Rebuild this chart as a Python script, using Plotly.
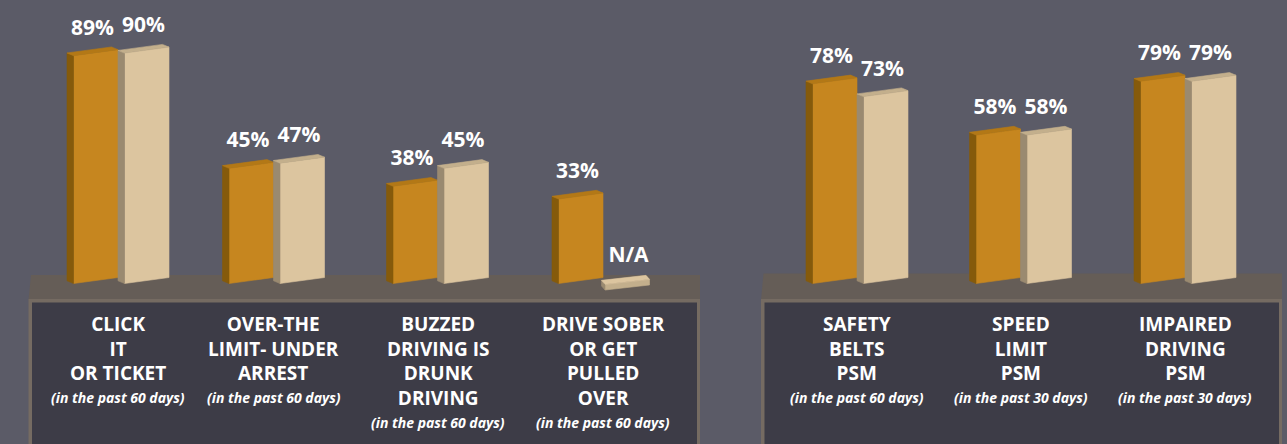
import plotly.graph_objects as go

# ---------------- data ----------------
left_categories = ["CLICK<br>IT<br>OR TICKET",
                   "OVER-THE<br>LIMIT- UNDER<br>ARREST",
                   "BUZZED<br>DRIVING IS<br>DRUNK<br>DRIVING",
                   "DRIVE SOBER<br>OR GET<br>PULLED<br>OVER"]
left_periods = ["(in the past 60 days)", "(in the past 60 days)",
                "(in the past 60 days)", "(in the past 60 days)"]
left_series_a = [89, 45, 38, 33]
left_series_b = [90, 47, 45, None]

right_categories = ["SAFETY<br>BELTS<br>PSM",
                    "SPEED<br>LIMIT<br>PSM",
                    "IMPAIRED<br>DRIVING<br>PSM"]
right_periods = ["(in the past 60 days)", "(in the past 30 days)",
                 "(in the past 30 days)"]
right_series_a = [78, 58, 79]
right_series_b = [73, 58, 79]

# ---------------- layout constants ----------------
W, H = 1287, 444
BASE_PX = 283.5          # pixel row of value 0
PX_PER_PCT = 2.56        # pixels per percentage point
LEFT_POS = [118, 273.5, 437.5, 603]
RIGHT_POS = [857, 1020.5, 1185]
FRONT_W = 44.5           # px, front face width
DEPTH_X = 6.5            # px, depth offset to the left
DEPTH_Y = 2.7 / PX_PER_PCT
SKEW = 6.0 / PX_PER_PCT  # rise of the face over its width
LABEL_OFF = 10.3
CAT_FONT = 19
LINE_PX = 1.3 * CAT_FONT

BG = "#5b5b67"
FLOOR = "#655d57"
BOX_BORDER = "#756b62"
BOX_FILL = "#3d3c47"
ORANGE = dict(front="#c6861f", side="#855a0b", top="#b37816")
TAN = dict(front="#dcc59f", side="#9a8a70", top="#c3af8c")

Y_MIN = -(H - BASE_PX) / PX_PER_PCT
Y_MAX = BASE_PX / PX_PER_PCT


def py(p):
    """pixel row -> y data value"""
    return (BASE_PX - p) / PX_PER_PCT


def box(x0, base, top, depth_x=DEPTH_X, depth_y=DEPTH_Y, skew=SKEW):
    x1 = x0 + FRONT_W
    front = [(x0, base), (x1, base + skew), (x1, top + skew), (x0, top)]
    side = [(x0, base), (x0, top), (x0 - depth_x, top + depth_y),
            (x0 - depth_x, base + depth_y)]
    topf = [(x0, top), (x1, top + skew), (x1 - depth_x, top + skew + depth_y),
            (x0 - depth_x, top + depth_y)]
    return front, side, topf


polys = {("a", k): ([], []) for k in ("front", "side", "top")}
polys.update({("b", k): ([], []) for k in ("front", "side", "top")})


def add_poly(key, pts):
    xs, ys = polys[key]
    for x, y in pts + [pts[0]]:
        xs.append(x)
        ys.append(y)
    xs.append(None)
    ys.append(None)


fig = go.Figure()

all_pos = LEFT_POS + RIGHT_POS
all_a = left_series_a + right_series_a
all_b = left_series_b + right_series_b
all_cats = left_categories + right_categories
all_periods = left_periods + right_periods

slab = None
for c, va, vb in zip(all_pos, all_a, all_b):
    f, s, t = box(c - FRONT_W, 0, va)
    add_poly(("a", "front"), f)
    add_poly(("a", "side"), s)
    add_poly(("a", "top"), t)
    if vb is not None:
        f, s, t = box(c + DEPTH_X, 0, vb)
        add_poly(("b", "front"), f)
        add_poly(("b", "side"), s)
        add_poly(("b", "top"), t)
    else:
        slab = c

for (ser, part), (xs, ys) in polys.items():
    col = (ORANGE if ser == "a" else TAN)[part]
    fig.add_trace(go.Scatter(x=xs, y=ys, mode="lines", fill="toself",
                             fillcolor=col, line=dict(color=col, width=0.6),
                             hoverinfo="skip", showlegend=False))

# N/A placeholder slab lying on the floor
if slab is not None:
    x0 = slab + 2
    b0 = py(290)
    f, s, t = box(x0, b0, b0 + 2.2, depth_x=3.5, depth_y=4.0 / PX_PER_PCT,
                  skew=5.0 / PX_PER_PCT)
    for pts, col in ((f, TAN["top"]), (s, TAN["side"]), (t, TAN["front"])):
        xs = [p[0] for p in pts] + [pts[0][0]]
        ys = [p[1] for p in pts] + [pts[0][1]]
        fig.add_trace(go.Scatter(x=xs, y=ys, mode="lines", fill="toself",
                                 fillcolor=col, line=dict(color=col, width=0.6),
                                 hoverinfo="skip", showlegend=False))

# value labels
lab_x, lab_y, lab_t = [], [], []
for c, va, vb in zip(all_pos, all_a, all_b):
    lab_x.append(c - (FRONT_W + DEPTH_X) / 2)
    lab_y.append(va + LABEL_OFF)
    lab_t.append(f"{va}%")
    lab_x.append(c + (FRONT_W + DEPTH_X) / 2)
    lab_y.append((vb if vb is not None else 0) + LABEL_OFF)
    lab_t.append(f"{vb}%" if vb is not None else "N/A")
fig.add_trace(go.Scatter(x=lab_x, y=lab_y, text=lab_t, mode="text",
                         textposition="middle center",
                         textfont=dict(family="Open Sans", size=21,
                                       color="white", weight="bold"),
                         hoverinfo="skip", showlegend=False))

# floors and label boxes
shapes = []
panels = [(29.5, 700, 275), (762, 1282, 273.5)]
for x0, x1, ftop in panels:
    shapes.append(dict(type="path", xref="x", yref="y",
                       path=f"M {x0+1.5},{py(ftop)} L {x1},{py(ftop)} L {x1},{py(300)} L {x0-1},{py(300)} Z",
                       fillcolor=FLOOR, line=dict(width=0), layer="below"))
    shapes.append(dict(type="rect", xref="x", yref="y", x0=x0 - 1, x1=x1,
                       y0=Y_MIN - 5, y1=py(299), fillcolor=BOX_BORDER,
                       line=dict(width=0), layer="below"))
    shapes.append(dict(type="rect", xref="x", yref="y", x0=x0 + 2.5, x1=x1 - 3,
                       y0=Y_MIN - 5, y1=py(302.5), fillcolor=BOX_FILL,
                       line=dict(width=0), layer="below"))

annotations = []
FIRST_LINE = 324
for c, cat, per in zip(all_pos, all_cats, all_periods):
    n = len(cat.split("<br>"))
    annotations.append(dict(x=c, y=py(FIRST_LINE + (n - 1) * LINE_PX / 2),
                            xref="x", yref="y", text=cat, showarrow=False,
                            xanchor="center", yanchor="middle", align="center",
                            font=dict(family="Open Sans", size=CAT_FONT,
                                      color="white", weight="bold")))
    annotations.append(dict(x=c, y=py(FIRST_LINE + n * LINE_PX - 0.5), xref="x",
                            yref="y", text=f"<i>{per}</i>", showarrow=False,
                            xanchor="center", yanchor="middle",
                            font=dict(family="Liberation Sans Narrow, Open Sans",
                                      size=14, color="white", weight="bold")))

fig.update_layout(
    width=W, height=H,
    margin=dict(l=0, r=0, t=0, b=0),
    paper_bgcolor=BG, plot_bgcolor=BG,
    xaxis=dict(range=[0, W], visible=False, fixedrange=True),
    yaxis=dict(range=[Y_MIN, Y_MAX], visible=False, fixedrange=True),
    shapes=shapes, annotations=annotations,
    showlegend=False,
)

fig.write_html("out.html",
               config={"displayModeBar": False},
               post_script="document.body.style.margin='0px';"
                           "document.body.style.overflow='hidden';")
